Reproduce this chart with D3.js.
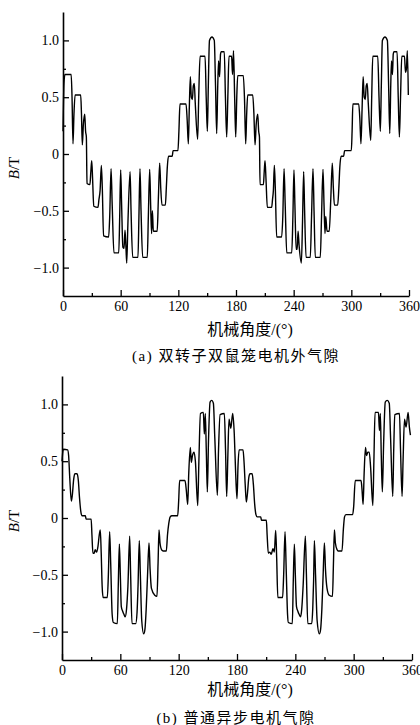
<!DOCTYPE html>
<html lang="zh">
<head>
<meta charset="utf-8">
<title>B-T air gap</title>
<script src="https://d3js.org/d3.v7.min.js"></script>
<style>
  body { margin: 0; background: #fff; }
  text { font-family: "Liberation Serif", "Noto Sans CJK SC", serif; fill: #000; }
</style>
</head>
<body>
<script>
// (a) 双转子双鼠笼电机外气隙
var degA = [0, 1.0, 2.0, 8.5, 9.4, 10.4, 11.4, 12.6, 18.4, 19.2, 20.1, 21.2, 22.6, 23.5, 24.3, 25.0, 28.0, 29.0, 29.9, 30.8,
  32.0, 36.4, 37.4, 38.6, 39.9, 40.9, 42.2, 47.5, 48.6, 50.0, 51.2, 53.0, 58.0, 59.0, 60.0, 61.0, 62.3, 63.5, 64.5, 65.4,
  66.3, 67.4, 69.8, 70.8, 72.5, 78.0, 79.0, 80.1, 81.2, 82.9, 87.7, 88.8, 90.2, 91.2, 92.2, 93.0, 94.0, 98.0, 99.2, 100.6,
  101.7, 103.0, 106.5, 107.5, 108.5, 109.8, 113.7, 114.5, 119.6, 120.6, 121.7, 128.0, 129.2, 130.4, 131.4, 132.5, 133.5, 134.6, 135.6, 136.6,
  137.6, 140.1, 141.2, 142.6, 147.8, 149.0, 150.2, 151.2, 152.4, 155.0, 157.4, 158.7, 159.9, 161.0, 161.9, 162.9, 163.9, 164.6, 167.8, 169.0,
  170.3, 171.5, 172.7, 175.4, 176.4, 177.4, 178.6, 179.7, 180.8, 181.8, 187.6, 188.8, 190.1, 191.1, 192.2, 197.4, 198.6, 199.8, 201.0, 202.6,
  203.6, 204.4, 205.0, 208.5, 209.4, 210.2, 211.2, 212.6, 217.1, 218.0, 218.9, 219.9, 220.9, 222.3, 227.5, 228.7, 230.0, 231.2, 232.8, 238.0,
  239.2, 240.3, 241.3, 242.6, 243.6, 244.6, 245.6, 248.0, 249.2, 250.4, 251.4, 252.9, 257.3, 258.6, 260.1, 261.2, 262.5, 267.7, 269.0, 270.5,
  271.6, 272.6, 273.4, 274.7, 277.0, 278.6, 280.2, 281.3, 282.4, 285.8, 287.0, 288.0, 289.4, 292.0, 293.0, 300.0, 300.8, 301.6, 307.7, 308.9,
  310.0, 311.2, 312.3, 313.4, 314.5, 315.5, 316.5, 317.6, 320.2, 321.2, 322.3, 327.5, 328.8, 330.2, 331.2, 332.3, 335.0, 337.5, 338.8, 340.0,
  341.0, 341.8, 342.8, 343.6, 344.3, 347.6, 348.8, 350.0, 351.2, 352.5, 355.3, 356.3, 357.3, 358.3, 359.3];
var bA = [0.20, 0.62, 0.70, 0.70, 0.50, 0.09, 0.35, 0.52, 0.52, 0.36, 0.08, 0.26, 0.35, 0.20, 0.15, -0.26, -0.27, -0.15, -0.06, -0.22,
  -0.46, -0.47, -0.40, -0.32, -0.10, -0.30, -0.72, -0.73, -0.55, -0.13, -0.45, -0.87, -0.87, -0.55, -0.14, -0.45, -0.82, -0.83, -0.67, -0.80,
  -0.96, -0.65, -0.155, -0.50, -0.91, -0.91, -0.55, -0.13, -0.50, -0.91, -0.91, -0.55, -0.135, -0.45, -0.70, -0.50, -0.68, -0.68, -0.40, -0.08,
  -0.30, -0.45, -0.45, -0.30, -0.12, -0.02, -0.02, 0.03, 0.03, 0.20, 0.44, 0.44, 0.30, 0.09, 0.40, 0.68, 0.50, 0.48, 0.60, 0.62,
  0.45, 0.13, 0.50, 0.86, 0.86, 0.50, 0.20, 0.60, 1.00, 1.03, 1.00, 0.60, 0.18, 0.60, 0.82, 0.68, 0.88, 0.90, 0.90, 0.50,
  0.15, 0.50, 0.86, 0.86, 0.70, 0.91, 0.50, 0.15, 0.50, 0.69, 0.69, 0.50, 0.09, 0.35, 0.52, 0.52, 0.36, 0.08, 0.26, 0.35,
  0.20, 0.15, -0.27, -0.27, -0.15, -0.06, -0.22, -0.47, -0.47, -0.40, -0.32, -0.10, -0.30, -0.73, -0.73, -0.55, -0.13, -0.45, -0.87, -0.87,
  -0.55, -0.14, -0.45, -0.84, -0.84, -0.68, -0.80, -0.96, -0.60, -0.155, -0.50, -0.91, -0.91, -0.55, -0.13, -0.50, -0.91, -0.91, -0.55, -0.135,
  -0.45, -0.70, -0.55, -0.68, -0.68, -0.40, -0.08, -0.30, -0.45, -0.45, -0.30, -0.12, -0.02, -0.02, 0.03, 0.03, 0.20, 0.44, 0.44, 0.30,
  0.09, 0.40, 0.68, 0.50, 0.48, 0.60, 0.62, 0.45, 0.12, 0.50, 0.86, 0.86, 0.50, 0.20, 0.60, 1.00, 1.03, 1.00, 0.60, 0.18,
  0.60, 0.82, 0.70, 0.88, 0.90, 0.90, 0.50, 0.15, 0.50, 0.86, 0.86, 0.72, 0.75, 0.91, 0.52];

// (b) 普通异步电机气隙
var degB = [0, 0.8, 1.5, 5.8, 6.8, 8.0, 9.6, 10.6, 12.0, 13.2, 15.5, 16.8, 18.0, 19.3, 20.5, 24.0, 24.8, 30.0, 30.8, 31.8,
  33.0, 34.2, 35.6, 37.0, 38.3, 39.4, 40.3, 41.3, 42.3, 46.6, 47.7, 49.0, 50.1, 51.6, 52.8, 56.9, 58.0, 59.0, 60.0, 61.0,
  62.4, 63.8, 65.0, 66.4, 67.8, 69.6, 70.6, 72.0, 75.8, 77.2, 78.2, 79.5, 80.6, 82.0, 84.0, 85.3, 86.6, 88.0, 89.5, 90.6,
  92.0, 95.4, 97.7, 98.8, 99.8, 100.8, 102.5, 104.0, 107.3, 108.5, 109.8, 111.3, 113.0, 119.0, 120.0, 121.0, 126.5, 127.8, 129.3, 130.4,
  132.0, 133.0, 134.2, 135.8, 137.2, 139.6, 140.8, 142.4, 145.4, 146.4, 147.4, 148.4, 149.5, 150.6, 152.3, 154.0, 155.7, 157.2, 159.8, 161.0,
  162.6, 167.0, 168.2, 169.4, 170.6, 171.8, 173.6, 175.6, 177.2, 178.6, 180.0, 181.0, 182.2, 186.2, 187.2, 188.4, 189.6, 190.8, 192.2, 193.4,
  195.6, 196.8, 198.2, 199.5, 200.8, 204.4, 205.2, 210.2, 211.0, 212.2, 213.8, 215.2, 217.0, 218.4, 219.8, 220.8, 222.0, 226.9, 228.0, 229.4,
  230.6, 232.0, 232.8, 236.9, 237.9, 239.0, 240.0, 241.2, 242.6, 244.0, 245.4, 246.6, 248.0, 250.3, 251.4, 252.8, 256.9, 257.9, 258.8, 259.6,
  260.8, 262.4, 264.7, 266.0, 267.3, 268.6, 269.9, 271.0, 272.6, 274.8, 278.2, 279.2, 280.2, 281.2, 283.0, 284.0, 288.0, 289.4, 290.6, 292.0,
  299.0, 300.0, 301.6, 307.6, 308.6, 309.7, 310.8, 312.2, 313.2, 314.6, 316.0, 317.4, 319.7, 320.8, 322.0, 325.5, 326.5, 327.4, 328.4, 329.5,
  330.8, 332.5, 334.5, 336.6, 338.0, 340.2, 341.2, 342.3, 347.1, 348.2, 349.8, 350.8, 352.3, 353.9, 356.0, 357.3, 358.4];
var bB = [0.50, 0.58, 0.605, 0.60, 0.55, 0.35, 0.15, 0.20, 0.34, 0.39, 0.39, 0.33, 0.18, 0.06, 0.02, 0.02, -0.01, -0.01, -0.15, -0.31,
  -0.31, -0.28, -0.30, -0.25, -0.15, -0.105, -0.30, -0.60, -0.70, -0.70, -0.50, -0.12, -0.40, -0.85, -0.92, -0.93, -0.55, -0.23, -0.50, -0.78,
  -0.82, -0.85, -0.87, -0.80, -0.60, -0.16, -0.50, -0.93, -0.93, -0.83, -0.60, -0.20, -0.50, -0.90, -1.02, -0.98, -0.80, -0.50, -0.22, -0.45,
  -0.62, -0.68, -0.69, -0.40, -0.105, -0.22, -0.28, -0.29, -0.29, -0.15, -0.05, 0.01, 0.02, 0.02, 0.15, 0.33, 0.33, 0.25, 0.12, 0.40,
  0.62, 0.49, 0.55, 0.58, 0.50, 0.11, 0.50, 0.92, 0.93, 0.74, 0.92, 0.60, 0.23, 0.65, 1.02, 1.035, 1.01, 0.70, 0.20, 0.60,
  0.91, 0.92, 0.60, 0.19, 0.55, 0.87, 0.79, 0.92, 0.74, 0.40, 0.17, 0.45, 0.60, 0.60, 0.50, 0.30, 0.14, 0.22, 0.36, 0.39,
  0.39, 0.30, 0.12, 0.03, 0.01, 0.01, -0.02, -0.02, -0.15, -0.31, -0.30, -0.32, -0.27, -0.30, -0.11, -0.35, -0.70, -0.70, -0.50, -0.12,
  -0.45, -0.85, -0.92, -0.93, -0.55, -0.23, -0.50, -0.78, -0.82, -0.85, -0.87, -0.80, -0.60, -0.16, -0.50, -0.93, -0.93, -0.80, -0.55, -0.20,
  -0.50, -0.90, -1.02, -0.98, -0.80, -0.50, -0.22, -0.45, -0.62, -0.68, -0.69, -0.40, -0.105, -0.22, -0.28, -0.29, -0.29, -0.10, 0.01, 0.03,
  0.03, 0.10, 0.33, 0.33, 0.25, 0.12, 0.40, 0.62, 0.55, 0.58, 0.58, 0.45, 0.11, 0.50, 0.93, 0.93, 0.77, 0.92, 0.55, 0.23,
  0.65, 1.02, 1.035, 1.01, 0.70, 0.19, 0.60, 0.91, 0.92, 0.60, 0.19, 0.50, 0.87, 0.80, 0.93, 0.80, 0.73];

var xTicks = [0, 60, 120, 180, 240, 300, 360];
var xMinor = [30, 90, 150, 210, 270, 330];
var yTicks = [-1.0, -0.5, 0, 0.5, 1.0];
var yTickLabels = ["\u22121.0", "\u22120.5", "0", "0.5", "1.0"];
var yMinor = [-0.75, -0.25, 0.25, 0.75];

var svg = d3.select("body").append("svg")
    .attr("width", 420)
    .attr("height", 725);

function panel(deg, b, x0, x1, yTop, yBot, caption, captionY, titleY, bLabelY) {
  var x = d3.scaleLinear().domain([0, 360]).range([x0, x1]);
  var y = d3.scaleLinear().domain([-1.25, 1.25]).range([yBot, yTop]);
  var g = svg.append("g");

  // minor ticks
  g.append("g")
      .attr("transform", "translate(0," + yBot + ")")
      .call(d3.axisBottom(x).tickValues(xMinor).tickSize(-3).tickFormat(""))
      .call(function(s) { s.select(".domain").remove(); });
  g.append("g")
      .attr("transform", "translate(" + x0 + ",0)")
      .call(d3.axisLeft(y).tickValues(yMinor).tickSize(-3).tickFormat(""))
      .call(function(s) { s.select(".domain").remove(); });

  g.append("g")
      .attr("transform", "translate(0," + yBot + ")")
      .call(d3.axisBottom(x).tickValues(xTicks).tickSizeInner(-6).tickSizeOuter(0).tickPadding(5));
  g.append("g")
      .attr("transform", "translate(" + x0 + ",0)")
      .call(d3.axisLeft(y).tickValues(yTicks).tickSizeInner(-6).tickSizeOuter(0).tickPadding(4)
        .tickFormat(function(d, i) { return yTickLabels[i]; }));

  g.selectAll("g").attr("font-family", "Liberation Serif").attr("font-size", 14);
  g.selectAll(".tick line").attr("stroke", "#000").attr("stroke-width", 1.3);
  g.selectAll(".domain").attr("stroke", "#000").attr("stroke-width", 1.6);
  g.selectAll(".tick text")
      .attr("fill", "#000")
      .style("font-family", "'Liberation Serif', serif")
      .style("font-size", "14px");

  var line = d3.line()
      .x(function(d, i) { return x(deg[i]); })
      .y(function(d) { return y(d); })
      .curve(d3.curveMonotoneX);

  g.append("path")
      .datum(b)
      .attr("d", line)
      .attr("fill", "none")
      .attr("stroke", "#000")
      .attr("stroke-width", 1.4)
      .attr("stroke-linejoin", "round");

  // axis titles
  g.append("text")
      .attr("x", 250)
      .attr("y", titleY)
      .attr("text-anchor", "middle")
      .style("font-size", "16px")
      .text("机械角度/(°)");

  var bl = g.append("text")
      .attr("transform", "translate(19," + bLabelY + ") rotate(-90)")
      .attr("text-anchor", "middle")
      .style("font-size", "15px");
  bl.append("tspan").style("font-style", "italic").text("B");
  bl.append("tspan").text("/T");

  g.append("text")
      .attr("x", 236)
      .attr("y", captionY)
      .attr("text-anchor", "middle")
      .style("font-size", "15px")
      .style("letter-spacing", "1.5px")
      .text(caption);
}

panel(degA, bA, 63, 409, 12, 296, "(a) 双转子双鼠笼电机外气隙", 361, 335, 168);
panel(degB, bB, 62, 412, 376, 660, "(b) 普通异步电机气隙", 723, 695, 521);
</script>
</body>
</html>
